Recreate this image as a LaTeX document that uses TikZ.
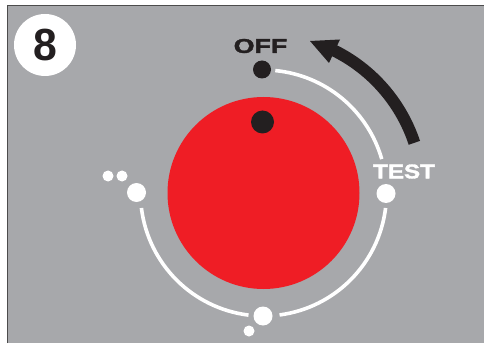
\documentclass[tikz,border=0pt]{standalone}
\usepackage{fontspec}
\setmainfont{Liberation Sans}
\newfontfamily\dialfont[BoldFeatures={FakeBold=1.6}]{Liberation Sans}
\definecolor{panelgray}{HTML}{A7A8AB}
\definecolor{dialred}{HTML}{EF1D25}
\definecolor{inkblack}{HTML}{231F20}
\tikzset{
	dialtext/.style={font=\dialfont\bfseries\fontsize{20}{20}\selectfont, inner sep=0pt, transform shape},
	dialarc/.style={white, line width=3.6}
}
\begin{document}
\begin{tikzpicture}[x=1pt, y=1pt]

\def\r{123}
\useasboundingbox (0,0) rectangle (484,343);
\fill[white] (0,0) rectangle (484,343);
\fill[panelgray] (7,0) rectangle (484,337);
\draw[black!70, line width=1] (7,0) -- (7,337) -- (484,337);

\coordinate (hub) at (263.5,150);
\fill[dialred] (hub) circle [radius=96];
\fill[inkblack] (262.5,221) circle [radius=11.5];

\fill[white] (45,298) circle [radius=31];
\node[font=\bfseries\fontsize{45}{45}\selectfont, text=inkblack, inner sep=0pt, xscale=0.95, transform shape] (number) at (45,297.5) {8};

\foreach \a/\b in {84.5/16,-7/-82.5,-97/-173}{
	\draw[dialarc] (hub) ++(\a:\r) arc [start angle=\a, end angle=\b, radius=\r];
}
\fill[inkblack] (262,273.5) circle [radius=9];
\foreach \x/\y in {386/149.5,263/27,136.5/150.5}{
	\fill[white] (\x,\y) circle [radius=9.5];
}
\foreach \x/\y in {108/167,122/167,249/12}{
	\fill[white] (\x,\y) circle [radius=5.5];
}

\draw[inkblack, line width=12] (hub) ++(18.4:159) arc [start angle=18.4, end angle=64, radius=159];
\fill[inkblack] (329,280) -- (310,302) -- (340,303.5) -- cycle;

\node[dialtext, text=inkblack, xscale=1.34] (off) at (260.5,297) {OFF};
\node[dialtext, text=white, xscale=1.21] (test) at (404,171.5) {TEST};

\end{tikzpicture}
\end{document}
